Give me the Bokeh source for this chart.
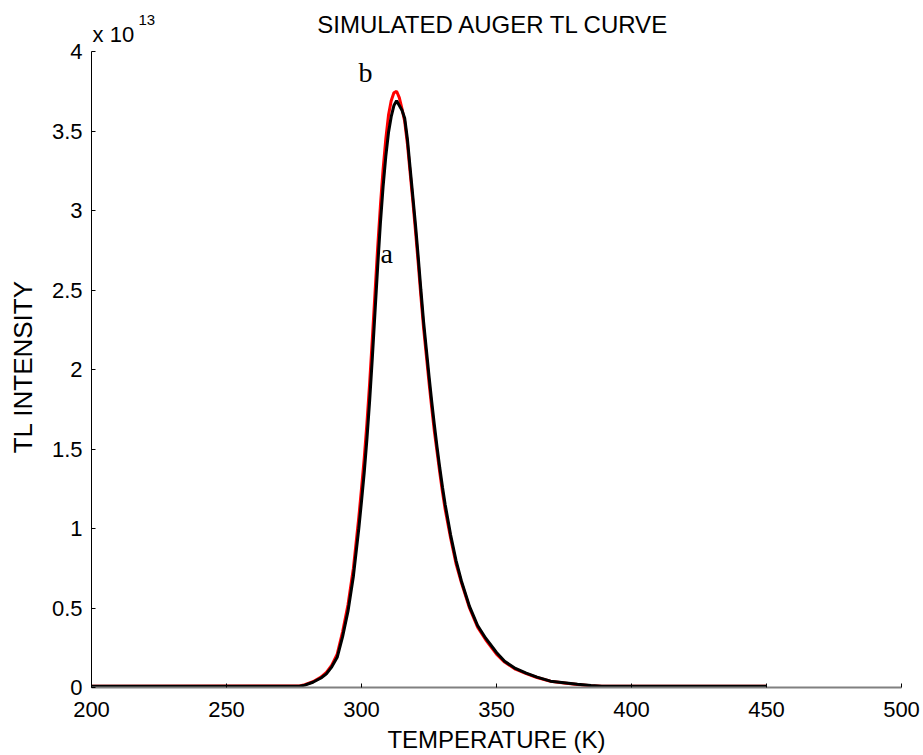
from bokeh.plotting import figure
from bokeh.models import Range1d, FixedTicker, Label
from bokeh.embed import file_html
from bokeh.resources import INLINE

# Temperature (K) and TL intensity (units of 1e13)
temp = [200, 277, 279, 282, 285, 287, 289, 291, 293, 295, 297,
        299, 300, 301, 302, 303, 304, 305, 306, 307, 308,
        309, 310, 311, 312, 313, 314, 315, 316, 317, 318,
        319, 320, 321, 322, 323, 324, 325, 326, 327, 328,
        329, 330, 331,
        333, 335, 337, 340, 343, 346, 350, 353, 357, 361, 365, 370, 375, 380, 385, 389, 450]
tl_a = [0.008, 0.008, 0.015, 0.033, 0.06, 0.086, 0.13, 0.19, 0.32, 0.48, 0.70,
        1.00, 1.17, 1.35, 1.56, 1.80, 2.07, 2.36, 2.65, 2.92, 3.15,
        3.34, 3.49, 3.59, 3.66, 3.69, 3.66, 3.63, 3.58, 3.45, 3.27,
        3.09, 2.91, 2.71, 2.50, 2.30, 2.13, 1.96, 1.80, 1.65, 1.51,
        1.38, 1.26, 1.15,
        0.96, 0.80, 0.67, 0.51, 0.39, 0.31, 0.22, 0.165, 0.12, 0.09, 0.065, 0.04, 0.03,
        0.02, 0.012, 0.008, 0.008]
tl_b = [0.008, 0.010, 0.018, 0.036, 0.065, 0.095, 0.14, 0.21, 0.35, 0.52, 0.75,
        1.07, 1.25, 1.44, 1.66, 1.91, 2.19, 2.48, 2.77, 3.03, 3.26,
        3.45, 3.60, 3.69, 3.74, 3.75, 3.71, 3.64, 3.56, 3.42, 3.24,
        3.06, 2.87, 2.67, 2.46, 2.26, 2.09, 1.92, 1.76, 1.61, 1.48,
        1.35, 1.23, 1.12,
        0.94, 0.78, 0.66, 0.50, 0.38, 0.30, 0.21, 0.16, 0.115, 0.087, 0.063, 0.039, 0.029,
        0.019, 0.011, 0.008, 0.008]

x_ticks = [200, 250, 300, 350, 400, 450, 500]
y_ticks = [0, 0.5, 1, 1.5, 2, 2.5, 3, 3.5, 4]
y_tick_labels = ["0", "0.5", "1", "1.5", "2", "2.5", "3", "3.5", "4"]
Y_AXIS_TOP = 4

TITLE = "SIMULATED AUGER TL CURVE"
XLABEL = "TEMPERATURE (K)"
YLABEL = "TL INTENSITY"
EXP_BASE = "x 10"
EXP_POWER = "13"
LABEL_A = ("a", 307.0, 2.73)
LABEL_B = ("b", 298.9, 3.87)

SANS = "Liberation Sans"
SERIF = "Liberation Serif"

# frame spans canvas rows 2..687; 4 units map to 636 px
Y_VIEW_TOP = Y_AXIS_TOP * 685 / 636

p = figure(width=923, height=755, output_backend="svg", toolbar_location=None,
           x_range=Range1d(200, 500), y_range=Range1d(0, Y_VIEW_TOP),
           min_border_left=91, min_border_right=22, min_border_top=2, min_border_bottom=68)
p.outline_line_color = None
p.grid.visible = False
p.background_fill_color = "white"
p.border_fill_color = "white"

xa = p.xaxis[0]
xa.ticker = FixedTicker(ticks=x_ticks)
xa.axis_label = XLABEL
xa.axis_line_color = "#808080"
xa.axis_line_width = 2
xa.major_tick_in = 4
xa.major_tick_out = 0
xa.minor_tick_line_color = None
xa.major_tick_line_color = "black"
xa.major_label_text_font = SANS
xa.major_label_text_font_size = "22px"
xa.major_label_text_color = "black"
xa.major_label_standoff = 14
xa.axis_label_text_font = SANS
xa.axis_label_text_font_size = "24px"
xa.axis_label_text_font_style = "normal"
xa.axis_label_text_color = "black"
xa.axis_label_standoff = 6

ya = p.yaxis[0]
ya.ticker = FixedTicker(ticks=y_ticks)
ya.bounds = (0, Y_AXIS_TOP)
ya.major_label_overrides = {t: s for t, s in zip(y_ticks, y_tick_labels)}
# trailing no-break spaces re-centre the label on the 0..4 part of the axis
ya.axis_label = YLABEL + "\u00a0" * 6
ya.axis_line_color = "black"
ya.axis_line_width = 1
ya.major_tick_in = 4
ya.major_tick_out = 0
ya.minor_tick_line_color = None
ya.major_tick_line_color = "black"
ya.major_label_text_font = SANS
ya.major_label_text_font_size = "22px"
ya.major_label_text_color = "black"
ya.major_label_standoff = 9
ya.axis_label_text_font = SANS
ya.axis_label_text_font_size = "26px"
ya.axis_label_text_font_style = "normal"
ya.axis_label_text_color = "black"
ya.axis_label_standoff = 11

p.line(temp, tl_b, line_color="red", line_width=3)
p.line(temp, tl_a, line_color="black", line_width=3)

for txt, tx, ty in (LABEL_A, LABEL_B):
    p.add_layout(Label(x=tx, y=ty, text=txt, text_font=SERIF, text_font_size="28px",
                       text_color="black", text_baseline="alphabetic"))

p.add_layout(Label(x=348.9, y=4.167, text=TITLE, text_font=SANS, text_font_size="24px",
                   text_color="black", text_align="center", text_baseline="alphabetic"))
p.add_layout(Label(x=200.4, y=4.107, text=EXP_BASE, text_font=SANS, text_font_size="22px",
                   text_color="black", text_baseline="alphabetic"))
p.add_layout(Label(x=217.4, y=4.20, text=EXP_POWER, text_font=SANS, text_font_size="15px",
                   text_color="black", text_baseline="alphabetic"))

open("out.html", "w").write(file_html(p, INLINE))
